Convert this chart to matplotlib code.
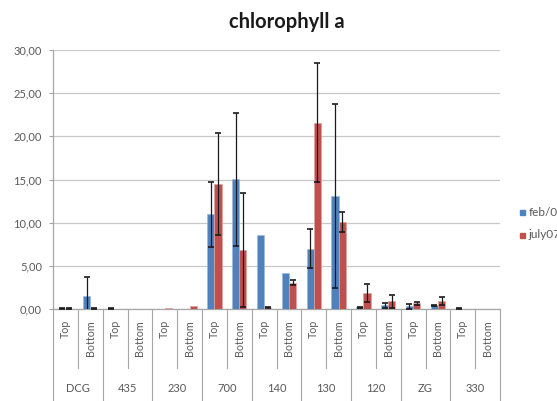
import numpy as np
import matplotlib
matplotlib.use("Agg")
import matplotlib.pyplot as plt
from matplotlib.transforms import blended_transform_factory

# ---- data ----
groups = ["DCG", "435", "230", "700", "140", "130", "120", "ZG", "330"]
positions = ["Top", "Bottom"]
series_names = ["feb/07", "july07"]
feb = [0.05, 1.5, 0.05, 0.0, 0.05, 0.05, 10.95, 15.05, 8.6, 4.15, 7.0, 13.05, 0.2, 0.45, 0.3, 0.45, 0.05, 0.0]
feb_err = [0.05, 2.2, 0.05, 0.0, 0.0, 0.0, 3.75, 7.7, 0.0, 0.0, 2.25, 10.65, 0.05, 0.3, 0.25, 0.05, 0.05, 0.0]
july = [0.05, 0.05, 0.05, 0.05, 0.1, 0.3, 14.45, 6.8, 0.15, 3.05, 21.6, 10.1, 1.9, 0.9, 0.65, 0.9, 0.0, 0.0]
july_err = [0.05, 0.05, 0.0, 0.0, 0.0, 0.0, 5.9, 6.6, 0.05, 0.3, 6.9, 1.15, 1.05, 0.75, 0.15, 0.45, 0.0, 0.0]
yticks = [0, 5, 10, 15, 20, 25, 30]
ytick_labels = ["0,00", "5,00", "10,00", "15,00", "20,00", "25,00", "30,00"]

BLUE = "#4F81BD"
RED = "#C0504D"
GRID = "#C8C8C8"
AXC = "#A6A6A6"
TXT = "#595959"
FONT = ["Lato", "DejaVu Sans"]

plt.rcParams["font.family"] = FONT

W, H = 557, 401
fig = plt.figure(figsize=(W / 100, H / 100), dpi=100)
L, R, T, B = 53, 500, 50, 309
ax = fig.add_axes([L / W, 1 - B / H, (R - L) / W, (B - T) / H])

n = len(feb)
x = np.arange(n) + 0.5
bw = 0.29
feb_a = np.array(feb); july_a = np.array(july)
fe = np.array(feb_err); je = np.array(july_err)

ax.bar(x - bw / 2, feb_a, bw, color=BLUE, edgecolor="#9DB9DC", linewidth=0.5, zorder=3, label=series_names[0])
ax.bar(x + bw / 2, july_a, bw, color=RED, edgecolor="#DDA3A1", linewidth=0.5, zorder=3, label=series_names[1])

m = fe > 0
ax.errorbar((x - bw / 2)[m], feb_a[m], yerr=fe[m], fmt="none", ecolor="#1a1a1a",
            elinewidth=0.9, capsize=2.0, capthick=1.2, zorder=4)
m = je > 0
ax.errorbar((x + bw / 2)[m], july_a[m], yerr=je[m], fmt="none", ecolor="#1a1a1a",
            elinewidth=0.9, capsize=2.0, capthick=1.2, zorder=4)

ax.set_xlim(0, n)
ax.set_ylim(0, 30)
ax.set_yticks(yticks)
ax.set_yticklabels(ytick_labels, fontsize=8, color=TXT)
ax.tick_params(axis="y", length=3, width=0.8, color=AXC, pad=5)
ax.set_xticks([])
ax.yaxis.grid(True, color=GRID, linewidth=0.9, zorder=0)
ax.set_axisbelow(True)
for s in ["top", "right"]:
    ax.spines[s].set_visible(False)
ax.spines["left"].set_color(AXC)
ax.spines["bottom"].set_color(AXC)
ax.spines["left"].set_linewidth(0.9)
ax.spines["bottom"].set_linewidth(0.9)

trans = blended_transform_factory(ax.transData, ax.transAxes)
axh = B - T
def ay(px):
    return -(px - B) / axh

# category separators
for k in range(n + 1):
    if k % 2 == 0:
        y_end = ay(H + 2)
    else:
        y_end = ay(368)
    ax.plot([k, k], [0, y_end], transform=trans, color=AXC, lw=0.8, clip_on=False)

for i in range(n):
    ax.text(i + 0.5, ay(320), positions[i % 2], transform=trans, rotation=90,
            ha="center", va="top", fontsize=7.7, color=TXT)
for g, name in enumerate(groups):
    ax.text(2 * g + 1, ay(389), name, transform=trans, ha="center", va="center",
            fontsize=8, color=TXT)

fig.text(287 / W, 1 - 22 / H, "chlorophyll a", ha="center", va="center",
         fontsize=14.5, fontweight="bold", color="#1a1a1a")

# legend
for j, (nm, c) in enumerate(zip(series_names, [BLUE, RED])):
    yy = 1 - (212 + j * 23) / H
    fig.patches.append(plt.Rectangle((520 / W, yy - 2.5 / H), 5 / W, 5 / H,
                                     transform=fig.transFigure, color=c))
    fig.text(528.5 / W, yy, nm, ha="left", va="center", fontsize=8.5, color=TXT)

fig.savefig("out.png", dpi=100)
